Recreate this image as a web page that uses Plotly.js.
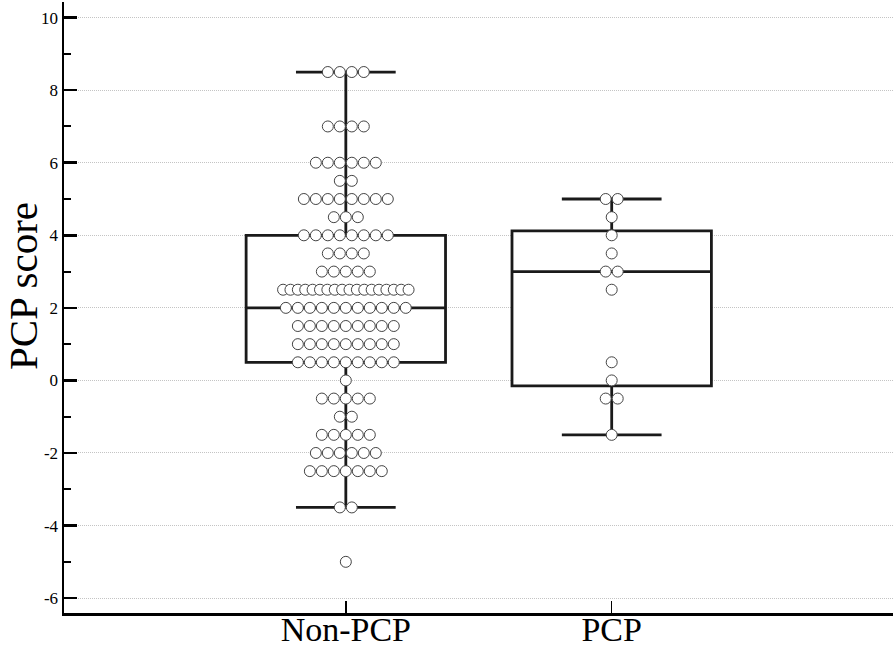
<!DOCTYPE html>
<html>
<head>
<meta charset="utf-8">
<script src="https://cdn.plot.ly/plotly-3.0.1.min.js"></script>
<style>html,body{margin:0;padding:0;background:#fff;}#chart{width:896px;height:649px;}</style>
</head>
<body>
<div id="chart"></div>
<script>
// ---- data ----
var groupLabels = ["Non-PCP", "PCP"];
var groupPos = [1, 2];

// Non-PCP: distinct scores and how many patients share each
var nonValues = [8.5, 7, 6, 5.5, 5, 4.5, 4, 3.5, 3, 2.5, 2, 1.5, 1, 0.5, 0, -0.5, -1, -1.5, -2, -2.5, -3.5, -5];
var nonCounts = [4, 4, 6, 2, 8, 3, 8, 4, 5, 18, 11, 9, 9, 9, 1, 5, 2, 5, 6, 7, 2, 1];

// PCP
var pcpValues = [5, 4.5, 4, 3.5, 3, 2.5, 0.5, 0, -0.5, -1.5];
var pcpCounts = [2, 1, 1, 1, 2, 1, 1, 1, 2, 1];

// box statistics
var nonBox = {q1: 0.5, median: 2, q3: 4, lower: -3.5, upper: 8.5};
var pcpBox = {q1: -0.15, median: 3, q3: 4.12, lower: -1.5, upper: 5};

var yTickVals = [-6, -4, -2, 0, 2, 4, 6, 8, 10];
var yTickText = ["-6", "-4", "-2", "0", "2", "4", "6", "8", "10"];
var yTitle = "PCP score";

// ---- dot layout (beeswarm rows) ----
var DX = 0.0451, MAXSPAN = 0.472;
function swarm(center, values, counts) {
  var xs = [], ys = [];
  for (var i = 0; i < values.length; i++) {
    var k = counts[i];
    var step = k > 1 ? Math.min(DX, MAXSPAN / (k - 1)) : 0;
    for (var j = 0; j < k; j++) {
      xs.push(center + (j - (k - 1) / 2) * step);
      ys.push(values[i]);
    }
  }
  return {x: xs, y: ys};
}
var nonPts = swarm(groupPos[0], nonValues, nonCounts);
var pcpPts = swarm(groupPos[1], pcpValues, pcpCounts);

var boxStyle = {
  type: 'box', width: 0.75, whiskerwidth: 0.5, boxpoints: false,
  fillcolor: '#ffffff', line: {color: '#1a1a1a', width: 2.8}, hoverinfo: 'skip'
};
function mkBox(pos, b) {
  return Object.assign({}, boxStyle, {
    x: [pos], q1: [b.q1], median: [b.median], q3: [b.q3],
    lowerfence: [b.lower], upperfence: [b.upper]
  });
}
var markerStyle = {size: 11, color: '#ffffff', line: {color: '#444444', width: 1}};

var data = [
  mkBox(groupPos[0], nonBox),
  mkBox(groupPos[1], pcpBox),
  {type: 'scatter', mode: 'markers', x: nonPts.x, y: nonPts.y, marker: markerStyle, hoverinfo: 'skip'},
  {type: 'scatter', mode: 'markers', x: pcpPts.x, y: pcpPts.y, marker: markerStyle, hoverinfo: 'skip'}
];

var layout = {
  width: 896, height: 649,
  margin: {l: 64, r: 3, t: 2, b: 36},
  paper_bgcolor: '#ffffff', plot_bgcolor: '#ffffff',
  showlegend: false, hovermode: false,
  font: {family: '"Liberation Serif", "Times New Roman", serif', color: '#000'},
  xaxis: {
    range: [-0.06, 3.058], tickmode: 'array', tickvals: groupPos, ticktext: groupLabels,
    ticks: 'inside', ticklen: 12, tickwidth: 1.5, tickcolor: '#000',
    ticklabelstandoff: -15,
    showline: true, linecolor: '#000', linewidth: 2.5,
    showgrid: false, zeroline: false,
    tickfont: {size: 34, family: '"Liberation Serif", serif', color: '#000'}
  },
  yaxis: {
    range: [-6.41, 10.43], tickmode: 'array', tickvals: yTickVals, ticktext: yTickText,
    ticks: 'inside', ticklen: 13, tickwidth: 2.5, tickcolor: '#000',
    minor: {ticks: 'inside', ticklen: 7, tickwidth: 2, tickcolor: '#000', tick0: 1, dtick: 2, showgrid: false},
    showline: true, linecolor: '#000', linewidth: 2.5,
    showgrid: true, gridcolor: '#c4c4c4', gridwidth: 1, griddash: '1px,1px',
    zeroline: false,
    tickfont: {size: 17, family: '"Liberation Serif", serif', color: '#000'}
  },
  annotations: [{
    text: yTitle, textangle: -90, showarrow: false,
    xref: 'paper', yref: 'paper', x: 0, y: 0.535,
    xanchor: 'center', yanchor: 'middle', xshift: -41,
    font: {size: 41, family: '"Liberation Serif", serif', color: '#000'}
  }]
};

Plotly.newPlot('chart', data, layout, {staticPlot: true, displayModeBar: false});
</script>
</body>
</html>
